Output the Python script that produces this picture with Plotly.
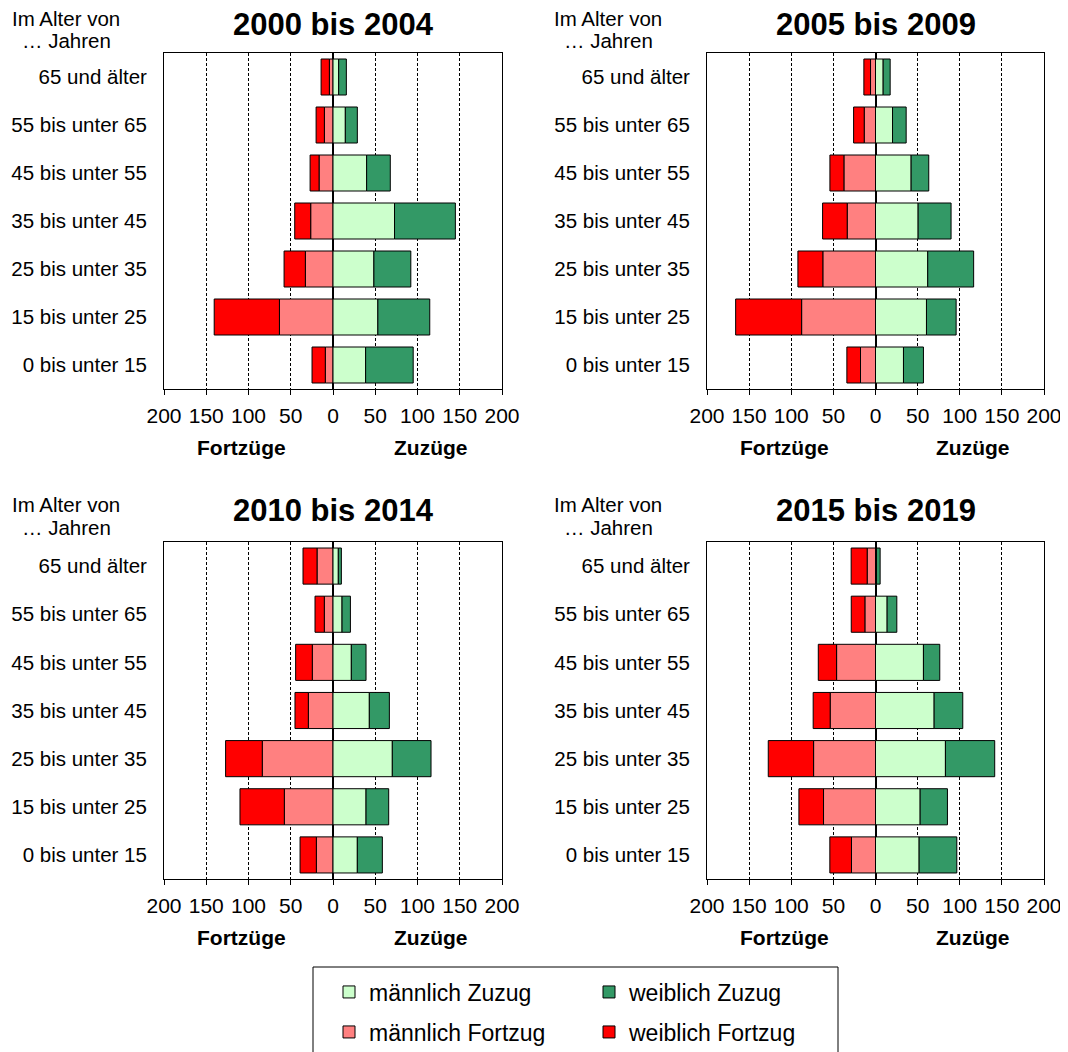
import plotly.graph_objects as go

W, H = 1068, 1052
OFF = 8  # page body margin offset

age_groups = ["0 bis unter 15", "15 bis unter 25", "25 bis unter 35", "35 bis unter 45",
              "45 bis unter 55", "55 bis unter 65", "65 und älter"]

periods = ["2000 bis 2004", "2005 bis 2009", "2010 bis 2014", "2015 bis 2019"]

# values per period (bottom -> top age group)
m_zuzug_2000 = [38.6, 53.1, 48.4, 72.8, 39.8, 14.6, 6.7]
w_zuzug_2000 = [56.3, 61.4, 43.7, 72.0, 28.0, 14.2, 9.1]
m_fortzug_2000 = [9.1, 63.4, 32.7, 26.4, 16.5, 10.2, 4.3]
w_fortzug_2000 = [15.7, 77.2, 25.2, 18.9, 10.6, 9.8, 9.8]

m_zuzug_2005 = [33.2, 60.5, 62.0, 50.6, 42.3, 20.2, 9.1]
w_zuzug_2005 = [23.7, 35.2, 54.5, 39.1, 20.9, 16.2, 8.3]
m_fortzug_2005 = [17.8, 87.7, 62.5, 33.6, 37.5, 13.4, 5.9]
w_fortzug_2005 = [16.2, 78.3, 29.6, 29.2, 16.6, 12.6, 7.9]

m_zuzug_2010 = [28.8, 39.1, 70.2, 43.0, 21.7, 10.7, 6.3]
w_zuzug_2010 = [29.6, 26.8, 45.8, 23.7, 17.4, 9.9, 3.6]
m_fortzug_2010 = [19.7, 57.6, 83.7, 29.2, 24.5, 10.3, 18.9]
w_fortzug_2010 = [19.3, 52.5, 43.4, 15.8, 19.7, 11.0, 16.6]

m_zuzug_2015 = [51.8, 53.0, 83.0, 69.6, 56.9, 13.8, 1.2]
w_zuzug_2015 = [44.7, 32.4, 58.5, 34.0, 19.4, 11.5, 4.3]
m_fortzug_2015 = [28.5, 61.7, 73.5, 53.8, 46.2, 12.6, 9.9]
w_fortzug_2015 = [25.7, 29.2, 53.8, 20.2, 21.7, 16.2, 19.0]

tick_vals = [-200, -150, -100, -50, 0, 50, 100, 150, 200]
tick_text = ["200", "150", "100", "50", "0", "50", "100", "150", "200"]

colors = {"männlich Zuzug": "#CCFFCC", "weiblich Zuzug": "#339966",
          "männlich Fortzug": "#FF8080", "weiblich Fortzug": "#FF0000"}

panel_data = [
    (m_zuzug_2000, w_zuzug_2000, m_fortzug_2000, w_fortzug_2000),
    (m_zuzug_2005, w_zuzug_2005, m_fortzug_2005, w_fortzug_2005),
    (m_zuzug_2010, w_zuzug_2010, m_fortzug_2010, w_fortzug_2010),
    (m_zuzug_2015, w_zuzug_2015, m_fortzug_2015, w_fortzug_2015),
]


def px(x):
    return (x - OFF) / W


def py(y):
    return 1 - (y - OFF) / H


# screenshot pixel layout of plot areas (left, right, top, bottom)
boxes = [(164, 502, 53, 389), (707, 1044, 53, 389),
         (164, 502, 542, 879), (707, 1044, 542, 879)]

FONT = "Liberation Sans, Arial, sans-serif"
fig = go.Figure()

for i, (mz, wz, mf, wf) in enumerate(panel_data):
    k = "" if i == 0 else str(i + 1)
    xa, ya = "x" + k, "y" + k
    entries = [
        ("männlich Fortzug", [-v for v in mf], "legend2"),
        ("weiblich Fortzug", [-v for v in wf], "legend2"),
        ("männlich Zuzug", mz, "legend"),
        ("weiblich Zuzug", wz, "legend"),
    ]
    for name, vals, leg in entries:
        fig.add_trace(go.Bar(
            y=age_groups, x=vals, orientation="h", name=name,
            marker=dict(color=colors[name], line=dict(color="black", width=1)),
            xaxis=xa, yaxis=ya, showlegend=(i == 0), legend=leg,
            hovertemplate="%{y}: %{x}<extra>" + name + "</extra>",
        ))

layout = dict(
    width=W, height=H, barmode="relative", bargap=0.25,
    margin=dict(l=0, r=0, t=0, b=0, autoexpand=False),
    paper_bgcolor="white", plot_bgcolor="white",
    font=dict(family=FONT, size=21, color="black"),
)

annotations = []
for i, (l, r, t, b) in enumerate(boxes):
    k = "" if i == 0 else str(i + 1)
    layout["xaxis" + k] = dict(
        domain=[px(l), px(r)], anchor="y" + k, range=[-200, 200], automargin=False,
        tickvals=tick_vals, ticktext=tick_text, ticks="outside", ticklen=5,
        tickcolor="black", showline=True, mirror=True, linecolor="black", linewidth=1,
        showgrid=True, gridcolor="black", gridwidth=1, griddash="3px,2px",
        zeroline=True, zerolinecolor="black", zerolinewidth=1.5,
        tickfont=dict(size=21), ticklabelstandoff=3, fixedrange=True,
    )
    layout["yaxis" + k] = dict(
        domain=[py(b), py(t)], anchor="x" + k, automargin=False,
        categoryorder="array", categoryarray=age_groups,
        showline=True, mirror=True, linecolor="black", linewidth=1,
        showgrid=False, ticks="", tickfont=dict(size=20.5), ticklabelstandoff=12,
        fixedrange=True,
    )
    cx = (l + r) / 2
    title_y = 24 if i < 2 else 511
    annotations.append(dict(text="<b>" + periods[i] + "</b>", x=px(cx), y=py(title_y),
                            xref="paper", yref="paper", showarrow=False,
                            font=dict(size=31), xanchor="center", yanchor="middle"))
    lab_x = 66 if i % 2 == 0 else 608
    top = 18 if i < 2 else 505
    annotations.append(dict(text="Im Alter von", x=px(lab_x), y=py(top),
                            xref="paper", yref="paper", showarrow=False,
                            font=dict(size=20.5), xanchor="center", yanchor="middle"))
    annotations.append(dict(text="… Jahren", x=px(lab_x), y=py(top + 22),
                            xref="paper", yref="paper", showarrow=False,
                            font=dict(size=20.5), xanchor="center", yanchor="middle"))
    fy = py(b + 58)
    annotations.append(dict(text="<b>Fortzüge</b>", x=-108, y=fy, xref="x" + k, yref="paper",
                            showarrow=False, font=dict(size=21), xanchor="center", yanchor="middle"))
    annotations.append(dict(text="<b>Zuzüge</b>", x=116, y=fy, xref="x" + k, yref="paper",
                            showarrow=False, font=dict(size=21), xanchor="center", yanchor="middle"))

layout["annotations"] = annotations
layout["shapes"] = [dict(type="rect", xref="paper", yref="paper",
                         x0=px(313), x1=px(838), y0=py(967), y1=-0.1,
                         line=dict(color="black", width=1), fillcolor="rgba(0,0,0,0)")]
leg_common = dict(orientation="h", xref="paper", yref="paper", xanchor="left", yanchor="middle",
                  bgcolor="rgba(0,0,0,0)", borderwidth=0, font=dict(size=23),
                  entrywidth=215, entrywidthmode="pixels", traceorder="normal")
layout["legend"] = dict(leg_common, x=px(329), y=py(992))
layout["legend2"] = dict(leg_common, x=px(329), y=py(1032))
layout["showlegend"] = True

fig.update_layout(**layout)
fig.write_html("out.html")
